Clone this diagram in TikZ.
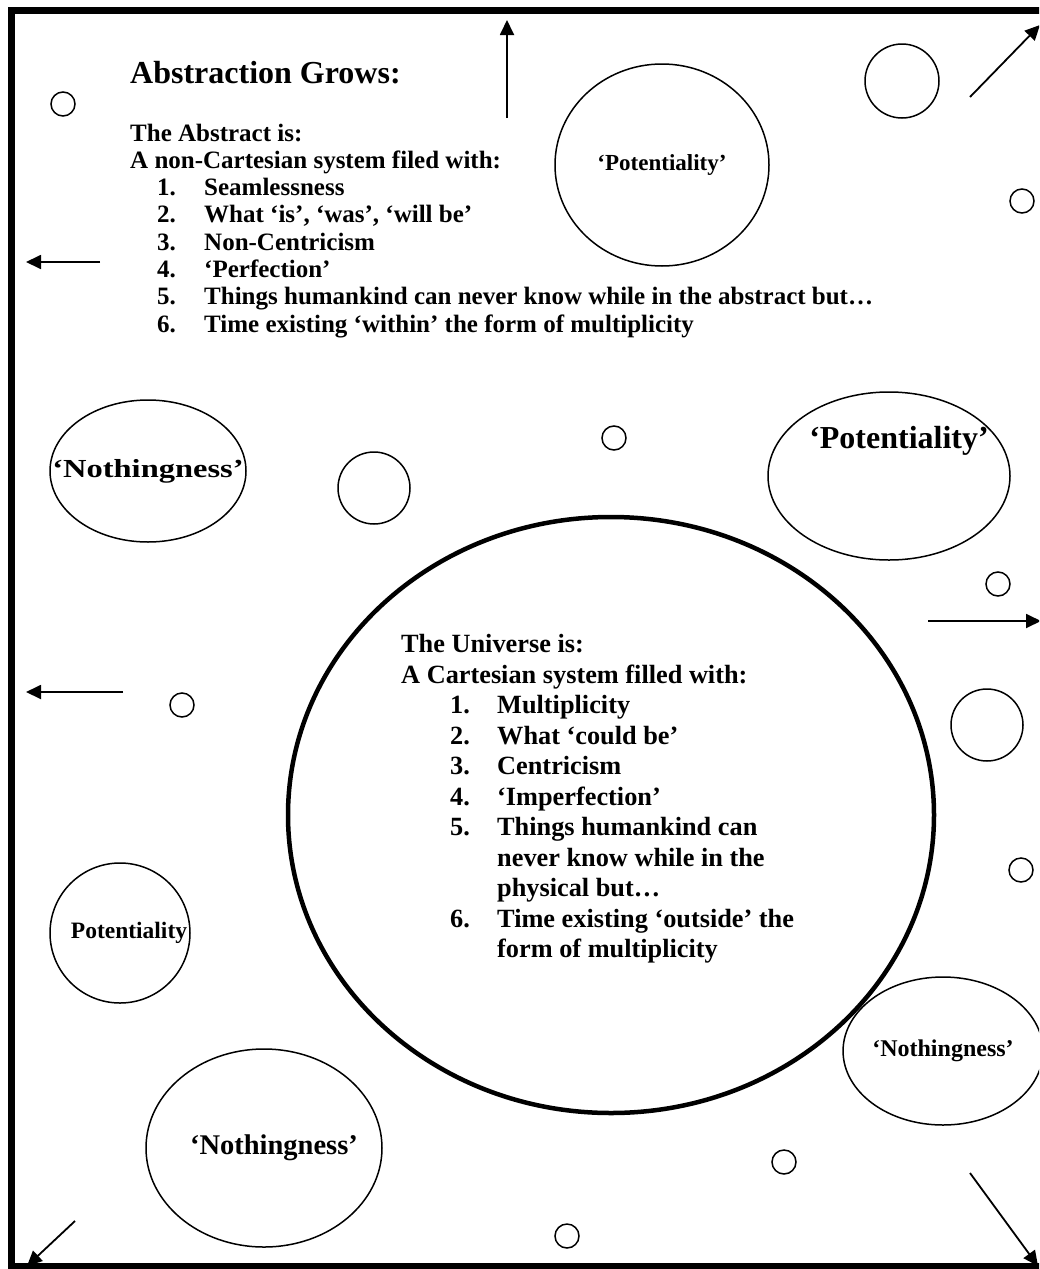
\documentclass[tikz,border=0pt]{standalone}
\usepackage{fontspec}
\setmainfont{Liberation Serif}
\usetikzlibrary{shapes.geometric,arrows.meta}
\tikzset{
  frame/.style={line width=7pt},
  bubble/.style={draw, circle, line width=1.5pt, inner sep=0pt},
  blob/.style={draw, ellipse, line width=1.5pt, inner sep=0pt, font=\bfseries, align=center},
  universe/.style={draw, ellipse, line width=4.5pt, inner sep=0pt},
  ray/.style={line width=1.8pt, -{Triangle[length=15pt,width=14pt]}},
  topline/.style={anchor=base west, inner sep=0pt, font=\bfseries\fontsize{25}{25}\selectfont},
  uniline/.style={anchor=base west, inner sep=0pt, font=\bfseries\fontsize{26.3}{26.3}\selectfont},
}
\begin{document}
\begin{tikzpicture}[x=1pt,y=-1pt]
\useasboundingbox (0,0) rectangle (1039,1269);
\clip (0,0) rectangle (1039,1269);
\fill[white] (0,0) rectangle (1039,1269);
\draw[frame] (11,10) rectangle (1060,1266);

% title and abstract list
\node[topline, font=\bfseries\fontsize{32}{32}\selectfont] (title) at (130,83) {Abstraction Grows:};
\node[topline] (a1) at (130,141) {The Abstract is:};
\node[topline] (a2) at (130,168.3) {A non-Cartesian system filed with:};
\foreach \n/\t/\y in {1/Seamlessness/195.6, 2/{What ‘is’, ‘was’, ‘will be’}/222.9, 3/Non-Centricism/250.2, 4/‘Perfection’/277.5, 5/{Things humankind can never know while in the abstract but…}/304.8, 6/{Time existing ‘within’ the form of multiplicity}/332.1}{
  \node[topline] (an\n) at (157,\y) {\n.};
  \node[topline] (at\n) at (204,\y) {\t};
}

% bubbles
\node[bubble, minimum size=24pt] (c1) at (63,104) {};
\node[bubble, minimum size=74pt] (c2) at (902,81) {};
\node[bubble, minimum size=24pt] (c3) at (1022,201) {};
\node[bubble, minimum size=24pt] (c4) at (614,438) {};
\node[bubble, minimum size=72pt] (c5) at (374,488) {};
\node[bubble, minimum size=24pt] (c6) at (998,584) {};
\node[bubble, minimum size=24pt] (c7) at (182,705) {};
\node[bubble, minimum size=72pt] (c8) at (987,725) {};
\node[bubble, minimum size=24pt] (c9) at (1021,870) {};
\node[bubble, minimum size=24pt] (c10) at (784,1162) {};
\node[bubble, minimum size=24pt] (c11) at (567,1236) {};

% ellipses
\node[blob, minimum width=214pt, minimum height=202pt, font=\bfseries\fontsize{23}{23}\selectfont] (p1) at (662,165) {‘Potentiality’};
\node[blob, minimum width=242pt, minimum height=168pt] (p2) at (889,476) {};
\node[inner sep=0pt, font=\bfseries\fontsize{32}{32}\selectfont] (p2t) at (p2.center) [xshift=10pt, yshift=35pt] {‘Potentiality’};
\node[blob, minimum width=196pt, minimum height=142pt] (n1) at (148,471) {};
\node[inner sep=0pt, font=\bfseries\fontsize{26}{26}\selectfont, xscale=1.25] (n1t) at (n1.center) {‘Nothingness’};
\node[blob, minimum width=140pt, minimum height=140pt] (p3) at (120,933) {};
\node[inner sep=0pt, font=\bfseries\fontsize{23.5}{23.5}\selectfont] (p3t) at (p3.center) [xshift=9pt] {Potentiality};
\node[blob, minimum width=174pt, minimum height=148pt, font=\bfseries\fontsize{24}{24}\selectfont] (n2) at (943,1051) {‘Nothingness’};
\node[blob, minimum width=236pt, minimum height=198pt] (n3) at (264,1148) {};
\node[inner sep=0pt, font=\bfseries\fontsize{28.5}{28.5}\selectfont] (n3t) at (n3.center) [xshift=10pt] {‘Nothingness’};
\node[universe, minimum width=646pt, minimum height=596pt] (u) at (611,815) {};

% universe list
\node[uniline] (u1) at (401,652) {The Universe is:};
\node[uniline] (u2) at (401,683) {A Cartesian system filled with:};
\foreach \n/\y in {1/713, 2/744, 3/774, 4/805, 5/835, 6/927}{
  \node[uniline] (un\n) at (450,\y) {\n.};
}
\node[uniline] (ut1) at (497,713) {Multiplicity};
\node[uniline] (ut2) at (497,744) {What ‘could be’};
\node[uniline] (ut3) at (497,774) {Centricism};
\node[uniline] (ut4) at (497,805) {‘Imperfection’};
\node[uniline] (ut5) at (497,835) {Things humankind can};
\node[uniline] (ut5b) at (497,866) {never know while in the};
\node[uniline] (ut5c) at (497,896) {physical but…};
\node[uniline] (ut6) at (497,927) {Time existing ‘outside’ the};
\node[uniline] (ut6b) at (497,957) {form of multiplicity};

% arrows
\coordinate (r1s) at (507,118); \coordinate (r1e) at (507,20);
\coordinate (r2s) at (970,97);  \coordinate (r2e) at (1040,25);
\coordinate (r3s) at (100,262); \coordinate (r3e) at (26,262);
\coordinate (r4s) at (123,692); \coordinate (r4e) at (26,692);
\coordinate (r5s) at (928,621); \coordinate (r5e) at (1041,621);
\coordinate (r6s) at (75,1221); \coordinate (r6e) at (27,1266);
\coordinate (r7s) at (970,1173); \coordinate (r7e) at (1038,1266);
\foreach \i in {1,...,7}{ \draw[ray] (r\i s) -- (r\i e); }
\end{tikzpicture}
\end{document}
